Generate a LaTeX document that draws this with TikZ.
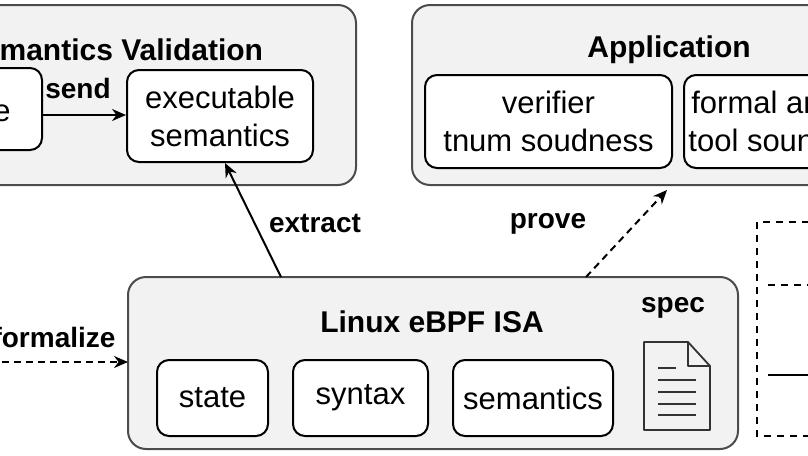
\documentclass[tikz,border=0pt]{standalone}
\usepackage{fontspec}
\setmainfont{Liberation Sans}
\usetikzlibrary{arrows.meta}
\begin{document}
\begin{tikzpicture}[x=1pt,y=-1pt,
  outer/.style={draw=black!70,line width=2pt,rounded corners=18pt,fill=black!5},
  inner/.style={draw=black,line width=2pt,rounded corners=12pt,fill=white,align=center,font=\fontsize{31}{38}\selectfont},
  ttl/.style={font=\bfseries\fontsize{30}{34}\selectfont},
  lbl/.style={font=\bfseries\fontsize{28}{32}\selectfont},
  arr/.style={line width=2pt,-{Stealth[length=14pt,width=12pt]}},
  darr/.style={arr,dash pattern=on 7pt off 5pt}]
\useasboundingbox (0,0) rectangle (808,455);
\clip (0,0) rectangle (808,455);
% Semantics validation
\draw[outer] (-200,5) rectangle (356,185);
\node[ttl] (sv) at (113,50) {Semantics Validation};
\draw[inner] (-100,68) rectangle (42,150);
\node[font=\fontsize{31}{36}\selectfont] (e) at (2,113) {e};
\coordinate (eR) at (42,115);
\node[inner,minimum width=186pt,minimum height=92pt] (exe) at (220,116) {executable\\semantics};
\draw[arr] (eR) -- (exe.west |- eR);
\node[lbl] (send) at (78,88) {send};
% Application
\draw[outer] (412,5) rectangle (1000,185);
\node[ttl] (app) at (669,50) {Application};
\node[inner,minimum width=247pt,minimum height=93pt] (ver) at (548.5,121.5) {verifier\\tnum soudness};
\node[inner,minimum width=217pt,minimum height=93pt,anchor=west] (fat) at (683,121.5) {\hspace{4pt}formal analysis\\tool soundness};
% ISA
\draw[outer] (128,277) rectangle (738,449);
\coordinate (isaTL) at (281,277);
\coordinate (isaTR) at (586,277);
\coordinate (isaL) at (128,362);
\node[ttl] (isa) at (432,322) {Linux eBPF ISA};
\node[inner,minimum width=111pt,minimum height=76pt] (st) at (212.5,398) {state};
\node[inner,minimum width=135pt,minimum height=76pt] (sy) at (360.5,398) {syntax};
\node[inner,minimum width=160pt,minimum height=76pt] (se) at (533,398) {semantics};
\node[lbl] (spec) at (673,308) {spec};
% doc icon
\begin{scope}[line width=1.8pt,draw=black!80]
\draw[line join=round] (644,342) -- (688,342) -- (710,366) -- (710,430) -- (644,430) -- cycle;
\draw[line join=round] (688,342) -- (688,366) -- (710,366);
\draw (658,368) -- (676,368);
\foreach \yy in {380,392,404,415}{\draw (658,\yy) -- (696,\yy);}
\end{scope}
\node[inner sep=0pt] (doc) at (677,386) {};
% arrows
\draw[arr] (isaTL) -- (225,163) coordinate (exB);
\node[lbl] (ext) at (315,224) {extract};
\draw[darr] (isaTR) -- (667,190) coordinate (apB);
\node[lbl] (prv) at (548,224) {prove};
\coordinate (fs) at (-10,362);
\draw[darr] (fs) -- (isaL);
\node[lbl] (fml) at (54,337) {formalize};
% legend
\draw[line width=2pt,dash pattern=on 7pt off 6pt] (900,222) -- (757,222) -- (757,436) -- (900,436);
\draw[line width=2pt,dash pattern=on 7pt off 6pt] (768,285) -- (820,285);
\draw[line width=2pt] (768,375) -- (820,375);
\end{tikzpicture}
\end{document}
